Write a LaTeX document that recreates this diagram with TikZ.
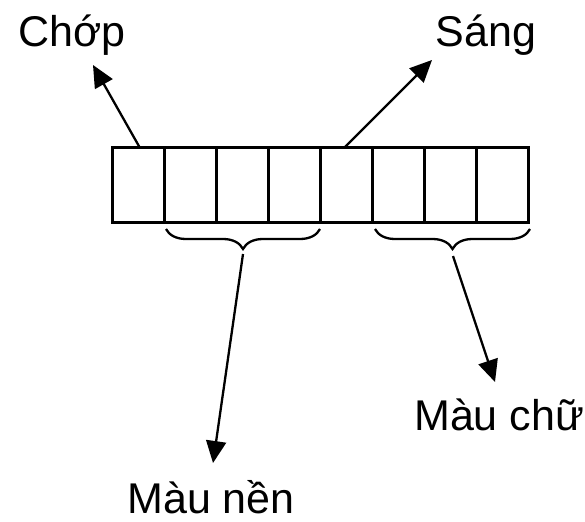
\documentclass[tikz,border=0pt]{standalone}
\usepackage{fontspec}
\setmainfont{Liberation Sans}
\usetikzlibrary{arrows.meta,decorations.pathreplacing}
\begin{document}
\begin{tikzpicture}[x=1pt,y=-1pt,
  cell/.style={draw,line width=3pt,minimum width=52pt,minimum height=74pt,inner sep=0pt,outer sep=0pt},
  lbl/.style={inner sep=0pt,font=\fontsize{43}{50}\selectfont},
  arr/.style={line width=2.3pt,-{Triangle[length=22pt,width=20pt]}},
  brc/.style={line width=2.3pt,decorate,decoration={brace,amplitude=20pt,mirror}}]
\useasboundingbox (0,0) rectangle (585,521);
\foreach \i in {1,...,8}{
  \node[cell] (c\i) at ({112+26+(\i-1)*52},185) {};
}
\node[lbl,anchor=base] (chop) at (72,47) {Chớp};
\node[lbl,anchor=base] (sang) at (486,47) {Sáng};
\node[lbl,anchor=base] (nen) at (211,513) {Màu nền};
\node[lbl,anchor=base west] (chu) at (414,430) {Màu chữ};
% braces
\coordinate (b1s) at (166,229);
\coordinate (b1e) at (320,229);
\coordinate (b2s) at (375,229);
\coordinate (b2e) at (530,229);
\draw[brc] (b1s) -- (b1e);
\draw[brc] (b2s) -- (b2e);
\coordinate (t1) at (243,254);
\coordinate (t2) at (453,256);
% arrow tips
\coordinate (p1) at (93,65);
\coordinate (p2) at (432,60);
\coordinate (p3) at (213,463);
\coordinate (p4) at (495,382);
\draw[arr] ([xshift=2pt]c1.north) -- (p1);
\draw[arr] ([xshift=-2pt]c5.north) -- (p2);
\draw[arr] (t1) -- (p3);
\draw[arr] (t2) -- (p4);
\end{tikzpicture}
\end{document}
